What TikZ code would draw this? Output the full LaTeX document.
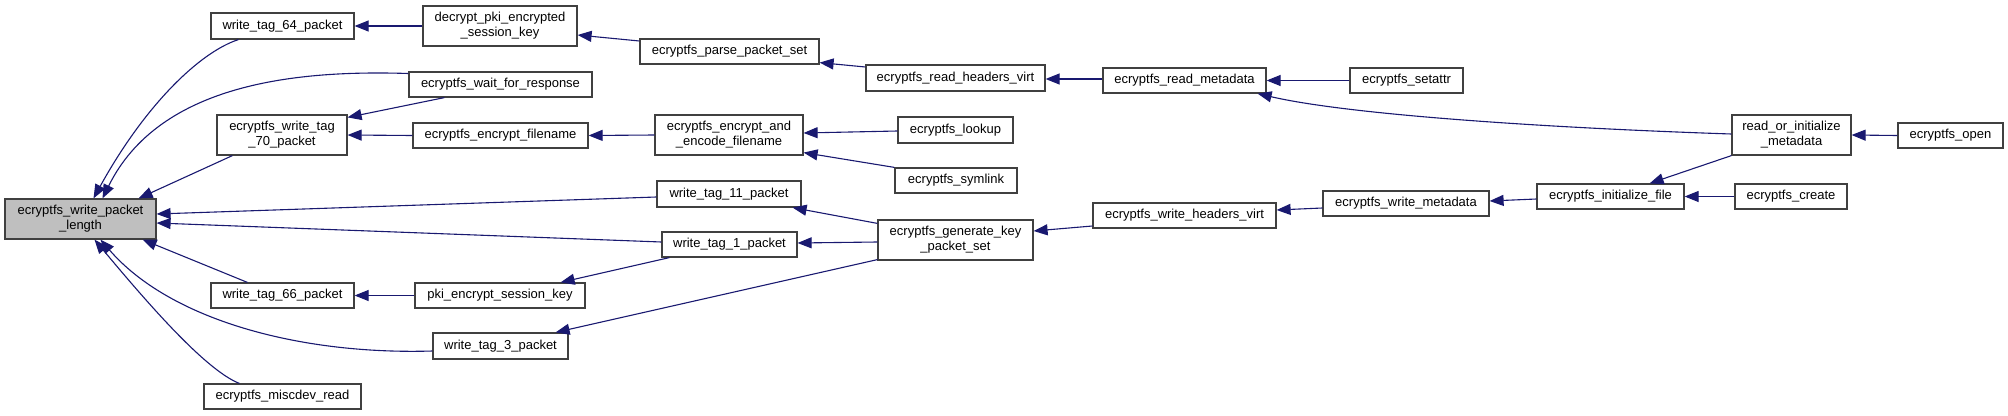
\documentclass[tikz,border=0pt]{standalone}
\usepackage{fontspec}
\setmainfont{Liberation Sans}
\usetikzlibrary{arrows.meta,calc}
\definecolor{edgeblue}{HTML}{191970}
\definecolor{boxline}{HTML}{404040}
\definecolor{mainfill}{HTML}{BFBFBF}
\tikzset{
  box/.style={draw=boxline, line width=1.2pt, rectangle, inner sep=0pt, align=center,
    font=\fontsize{13}{15}\selectfont, fill=white},
  mainbox/.style={box, fill=mainfill},
  edge/.style={draw=edgeblue, line width=1.1pt, -{Triangle[length=14pt,width=11pt]}}
}
\begin{document}
\begin{tikzpicture}[x=1pt,y=-1pt]
\useasboundingbox (0,0) rectangle (2008,415);
% nodes
\node[mainbox, minimum width=151pt, minimum height=40pt] (main) at (80.5,219) {ecryptfs\_write\_packet\\\_length};
\node[box, minimum width=143pt, minimum height=26pt] (wt64) at (282.5,26) {write\_tag\_64\_packet};
\node[box, minimum width=154pt, minimum height=40pt] (decrypt) at (500,26) {decrypt\_pki\_encrypted\\\_session\_key};
\node[box, minimum width=183pt, minimum height=25pt] (wfr) at (500.5,84.5) {ecryptfs\_wait\_for\_response};
\node[box, minimum width=130pt, minimum height=40pt] (wt70) at (282,135) {ecryptfs\_write\_tag\\\_70\_packet};
\node[box, minimum width=175pt, minimum height=25pt] (encfn) at (500.5,135.5) {ecryptfs\_encrypt\_filename};
\node[box, minimum width=143pt, minimum height=25pt] (wt66) at (282.5,295.5) {write\_tag\_66\_packet};
\node[box, minimum width=170pt, minimum height=25pt] (pki) at (500,295.5) {pki\_encrypt\_session\_key};
\node[box, minimum width=135pt, minimum height=26pt] (wt3) at (500.5,346) {write\_tag\_3\_packet};
\node[box, minimum width=157pt, minimum height=25pt] (misc) at (282.5,396.5) {ecryptfs\_miscdev\_read};
\node[box, minimum width=179pt, minimum height=25pt] (parse) at (729.5,51.5) {ecryptfs\_parse\_packet\_set};
\node[box, minimum width=179pt, minimum height=26pt] (rhv) at (955.5,78) {ecryptfs\_read\_headers\_virt};
\node[box, minimum width=148pt, minimum height=40pt] (encenc) at (729,135) {ecryptfs\_encrypt\_and\\\_encode\_filename};
\node[box, minimum width=115pt, minimum height=26pt] (lookup) at (955.5,130) {ecryptfs\_lookup};
\node[box, minimum width=122pt, minimum height=25pt] (symlink) at (956,180.5) {ecryptfs\_symlink};
\node[box, minimum width=144pt, minimum height=26pt] (wt11) at (729,194) {write\_tag\_11\_packet};
\node[box, minimum width=135pt, minimum height=25pt] (wt1) at (729.5,244.5) {write\_tag\_1\_packet};
\node[box, minimum width=155pt, minimum height=40pt] (genkey) at (955.5,240) {ecryptfs\_generate\_key\\\_packet\_set};
\node[box, minimum width=163pt, minimum height=25pt] (rmeta) at (1184.5,80.5) {ecryptfs\_read\_metadata};
\node[box, minimum width=113pt, minimum height=25pt] (setattr) at (1406.5,80.5) {ecryptfs\_setattr};
\node[box, minimum width=183pt, minimum height=25pt] (whv) at (1184.5,215.5) {ecryptfs\_write\_headers\_virt};
\node[box, minimum width=166pt, minimum height=25pt] (wmeta) at (1406,203.5) {ecryptfs\_write\_metadata};
\node[box, minimum width=119pt, minimum height=40pt] (roim) at (1791.5,135) {read\_or\_initialize\\\_metadata};
\node[box, minimum width=105pt, minimum height=25pt] (open) at (1950.5,135.5) {ecryptfs\_open};
\node[box, minimum width=147pt, minimum height=25pt] (initf) at (1610.5,196.5) {ecryptfs\_initialize\_file};
\node[box, minimum width=112pt, minimum height=25pt] (create) at (1791,196.5) {ecryptfs\_create};
% edges
\draw[edge] ($(wt64.south west)+(28,0)$) .. controls (200,52) and (145,105) .. ($(main.north)+(13,0)$);
\draw[edge] ($(wfr.west)+(0,-11)$) .. controls (300,70) and (160,82) .. ($(main.north)+(22,0)$);
\draw[edge] ($(wt70.south west)+(16,0)$) -- ($(main.north east)+(-18,0)$);
\draw[edge] ($(wt11.west)+(0,3)$) -- ($(main.east)+(0,-5)$);
\draw[edge] ($(wt1.west)+(0,-2.5)$) -- ($(main.east)+(0,4)$);
\draw[edge] ($(wt66.north west)+(37,0)$) -- ($(main.south east)+(-14,0)$);
\draw[edge] ($(wt3.west)+(0,5)$) .. controls (300,355) and (170,320) .. ($(main.south)+(20,0)$);
\draw[edge] ($(misc.north west)+(36,0)$) .. controls (205,370) and (145,300) .. ($(main.south)+(14,0)$);
\draw[edge] (decrypt.west) -- (wt64.east);
\draw[edge] ($(parse.west)+(0,-10.5)$) -- ($(decrypt.east)+(0,9)$);
\draw[edge] ($(rhv.west)+(0,-11)$) -- ($(parse.south east)+(0,-2)$);
\draw[edge] ($(rmeta.west)+(0,-1.5)$) -- ($(rhv.east)+(0,1)$);
\draw[edge] (setattr.west) -- (rmeta.east);
\draw[edge] ($(roim.west)+(0,-1)$) .. controls (1550,128) and (1350,115) .. ($(rmeta.south east)+(-9,0)$);
\draw[edge] ($(wfr.south west)+(36,0)$) -- ($(wt70.north east)+(0,3)$);
\draw[edge] (encfn.west) -- (wt70.east);
\draw[edge] (encenc.west) -- (encfn.east);
\draw[edge] ($(lookup.west)+(0,1)$) -- ($(encenc.east)+(0,-2)$);
\draw[edge] (symlink.north west) -- ($(encenc.south east)+(0,-3)$);
\draw[edge] ($(genkey.west)+(0,2)$) -- ($(wt1.east)+(0,-1.5)$);
\draw[edge] ($(genkey.north west)+(0,4)$) -- ($(wt11.south east)+(-9,0)$);
\draw[edge] ($(genkey.south west)+(0,-1)$) -- ($(wt3.north east)+(-13,0)$);
\draw[edge] ($(wt1.south west)+(8,0)$) -- ($(pki.north east)+(-25,0)$);
\draw[edge] (pki.west) -- (wt66.east);
\draw[edge] ($(whv.west)+(0,10.5)$) -- ($(genkey.east)+(0,-9)$);
\draw[edge] ($(wmeta.west)+(0,4.5)$) -- ($(whv.east)+(0,-5.5)$);
\draw[edge] ($(initf.west)+(0,2.5)$) -- ($(wmeta.east)+(0,-2.5)$);
\draw[edge] (roim.south west) -- ($(initf.north east)+(-35,0)$);
\draw[edge] (create.west) -- (initf.east);
\draw[edge] (open.west) -- (roim.east);
\end{tikzpicture}
\end{document}
